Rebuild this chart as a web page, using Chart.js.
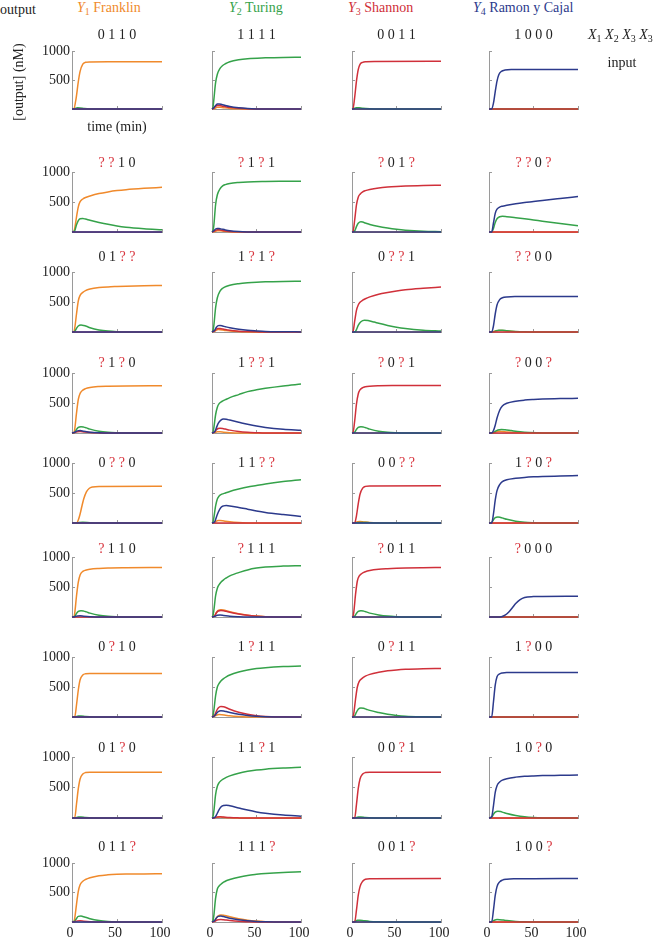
<!DOCTYPE html>
<html lang="en">
<head>
    <meta charset="UTF-8">
    <title>Output grid</title>
    <script src="https://cdn.jsdelivr.net/npm/chart.js"></script>
    <style>
        body { background: #fff; margin: 0; padding: 0; }
        #wrap { position: relative; width: 655px; height: 940px; overflow: hidden; font-family: "Liberation Serif", serif; color: #222; }
        #wrap canvas { position: absolute; }
        .txt { position: absolute; white-space: nowrap; font-size: 14px; line-height: 16px; }
        .ttl { transform: translate(-50%, -50%); }
        .q { color: #d8333c; }
        sub { font-size: 10px; vertical-align: -3px; line-height: 0; }
    </style>
</head>
<body>
<div id="wrap"></div>
<script>
// time (min) / concentration (nM) pairs
const Z = [[0,0],[100,0]];

// Y1 Franklin column
const frInputs = ['0110','??10','01??','?1?0','0??0','?110','0?10','01?0','011?'];
const frOrange = [
    [[0,0],[2,0],[4,130],[5,230],[7,470],[9,650],[12,775],[15,805],[20,812],[40,815],[100,815]],
    [[0,0],[2,0],[3,60],[5,250],[7,420],[9,505],[12,550],[15,575],[20,600],[30,640],[40,668],[50,690],[60,706],[80,728],[100,745]],
    [[0,0],[2,0],[3,60],[5,300],[7,520],[9,610],[12,660],[15,690],[20,715],[30,740],[40,752],[50,758],[60,763],[80,770],[100,775]],
    [[0,0],[2,0],[3,60],[5,330],[7,560],[9,660],[12,715],[15,740],[20,760],[30,775],[40,780],[60,785],[100,788]],
    [[0,0],[5,0],[7,50],[9,150],[11,280],[13,400],[16,520],[19,575],[23,600],[30,610],[100,612]],
    [[0,0],[2,0],[3,60],[5,350],[7,580],[9,700],[12,760],[15,780],[20,795],[30,808],[40,815],[60,820],[100,825]],
    [[0,0],[3,0],[5,200],[7,450],[9,620],[12,700],[15,720],[20,725],[100,727]],
    [[0,0],[3,0],[5,230],[7,480],[9,640],[12,720],[15,745],[20,752],[100,752]],
    [[0,0],[2,0],[3,60],[5,300],[7,520],[9,630],[12,690],[15,720],[20,750],[30,785],[40,800],[50,808],[60,812],[80,815],[100,817]]
];
const frGreen = [
    [[0,0],[3,5],[6,20],[9,18],[14,8],[20,2],[30,0],[100,0]],
    [[0,0],[3,20],[5,120],[7,190],[9,220],[12,225],[15,215],[20,195],[30,160],[40,128],[50,100],[60,80],[80,55],[100,38]],
    [[0,0],[3,10],[5,60],[7,100],[10,115],[13,108],[16,95],[20,72],[30,35],[40,15],[50,5],[60,0],[100,0]],
    [[0,0],[3,10],[5,60],[7,95],[10,105],[13,98],[16,85],[20,65],[30,30],[40,12],[50,4],[60,0],[100,0]],
    [[0,0],[5,0],[8,10],[12,12],[20,5],[30,0],[100,0]],
    [[0,0],[3,10],[5,60],[7,95],[10,105],[13,98],[16,85],[20,65],[30,30],[40,12],[50,4],[60,0],[100,0]],
    [[0,0],[4,5],[7,18],[10,18],[15,10],[25,2],[35,0],[100,0]],
    [[0,0],[4,5],[7,15],[10,15],[15,8],[25,2],[35,0],[100,0]],
    [[0,0],[3,15],[5,60],[7,95],[10,100],[13,88],[16,75],[20,55],[30,25],[40,10],[50,3],[60,0],[100,0]]
];
const frRed = [Z, Z, Z,
    [[0,0],[3,8],[6,22],[9,25],[13,18],[20,8],[30,2],[40,0],[100,0]],
    Z, Z, Z, Z,
    [[0,0],[3,6],[6,18],[9,20],[13,14],[20,6],[30,0],[100,0]]
];
const frBlue = [Z, Z, Z,
    [[0,0],[3,12],[6,35],[9,40],[13,30],[20,14],[30,4],[40,0],[100,0]],
    Z,
    [[0,0],[3,6],[6,18],[9,20],[13,14],[20,6],[30,0],[100,0]],
    Z, Z, Z
];

// Y2 Turing column
const tuInputs = ['1111','?1?1','1?1?','1??1','11??','?111','1?11','11?1','111?'];
const tuOrange = [
    [[0,0],[3,10],[6,30],[9,30],[13,22],[20,10],[30,3],[40,0],[100,0]],
    [[0,0],[3,8],[6,20],[9,20],[13,14],[20,6],[30,0],[100,0]],
    [[0,0],[3,10],[5,30],[7,40],[9,38],[12,32],[15,25],[20,15],[30,6],[40,2],[50,0],[100,0]],
    [[0,0],[3,8],[6,20],[9,20],[13,14],[20,6],[30,0],[100,0]],
    [[0,0],[3,10],[5,30],[7,40],[9,42],[12,38],[15,30],[20,20],[30,8],[40,2],[50,0],[100,0]],
    [[0,0],[3,20],[5,75],[7,110],[10,120],[13,115],[16,105],[20,88],[30,55],[40,30],[50,15],[60,6],[80,0],[100,0]],
    [[0,0],[3,12],[5,30],[8,40],[11,38],[15,30],[20,20],[30,8],[40,2],[50,0],[100,0]],
    [[0,0],[3,5],[6,14],[9,15],[13,10],[20,4],[30,0],[100,0]],
    [[0,0],[3,20],[5,70],[7,105],[10,120],[13,115],[16,105],[20,88],[30,55],[40,30],[50,15],[60,6],[80,0],[100,0]]
];
const tuGreen = [
    [[0,0],[1,20],[2,150],[4,450],[6,600],[9,700],[12,750],[15,780],[20,815],[30,850],[40,868],[60,882],[80,890],[100,893]],
    [[0,0],[1,15],[2,100],[4,450],[6,620],[9,720],[12,770],[15,790],[20,808],[30,825],[40,835],[60,842],[80,845],[100,847]],
    [[0,0],[1,15],[2,100],[4,400],[6,570],[9,680],[12,730],[15,755],[20,780],[30,805],[40,820],[50,830],[60,836],[80,842],[100,845]],
    [[0,0],[1,10],[2,80],[4,300],[6,430],[8,490],[11,525],[15,555],[20,590],[30,640],[40,690],[50,720],[60,745],[80,785],[100,815]],
    [[0,0],[1,10],[2,80],[4,280],[6,400],[8,450],[11,480],[15,500],[20,525],[30,565],[40,600],[50,625],[60,650],[80,690],[100,722]],
    [[0,0],[1,15],[2,100],[4,350],[6,480],[8,540],[10,580],[13,620],[16,650],[20,685],[25,715],[30,740],[40,785],[50,815],[60,833],[80,848],[100,855]],
    [[0,0],[1,15],[2,100],[4,350],[6,500],[8,560],[10,600],[13,640],[16,670],[20,700],[30,750],[40,785],[50,808],[60,822],[80,840],[100,850]],
    [[0,0],[1,15],[2,100],[4,380],[6,520],[8,580],[10,610],[13,640],[16,665],[20,690],[30,735],[40,765],[50,785],[60,800],[80,818],[100,830]],
    [[0,0],[1,15],[2,100],[4,400],[6,560],[8,610],[10,640],[13,675],[16,700],[20,720],[30,760],[40,790],[50,808],[60,822],[80,840],[100,850]]
];
const tuRed = [
    [[0,0],[2,15],[4,45],[6,60],[8,60],[11,52],[15,40],[20,28],[30,12],[40,4],[50,0],[100,0]],
    [[0,0],[2,10],[4,30],[6,38],[8,36],[11,28],[15,18],[20,10],[30,3],[40,0],[100,0]],
    [[0,0],[3,20],[5,50],[7,60],[9,58],[12,50],[15,40],[20,28],[30,14],[40,7],[50,3],[60,0],[100,0]],
    [[0,0],[3,20],[5,55],[7,75],[9,80],[12,75],[15,65],[20,48],[30,25],[40,12],[50,5],[60,0],[100,0]],
    Z,
    [[0,0],[3,20],[5,70],[7,100],[10,110],[13,105],[16,95],[20,80],[30,50],[40,28],[50,14],[60,6],[80,0],[100,0]],
    [[0,0],[3,30],[5,100],[7,150],[10,175],[13,170],[16,155],[20,130],[30,80],[40,45],[50,22],[60,10],[80,3],[100,0]],
    [[0,0],[3,5],[6,18],[9,20],[13,15],[20,7],[30,2],[40,0],[100,0]],
    [[0,0],[3,10],[5,30],[7,40],[10,42],[13,38],[16,32],[20,25],[30,12],[40,5],[50,0],[100,0]]
];
const tuBlue = [
    [[0,0],[2,20],[4,60],[6,85],[8,88],[11,78],[15,60],[20,42],[30,20],[40,8],[50,2],[60,0],[100,0]],
    [[0,0],[2,20],[4,50],[6,60],[8,58],[11,48],[15,35],[20,22],[30,8],[40,2],[50,0],[100,0]],
    [[0,0],[3,30],[5,80],[7,105],[9,110],[12,100],[15,88],[20,70],[30,45],[40,28],[50,18],[60,10],[80,5],[100,2]],
    [[0,0],[3,20],[5,90],[7,160],[10,215],[13,232],[16,228],[20,215],[30,180],[40,145],[50,115],[60,92],[80,62],[100,45]],
    [[0,0],[3,20],[5,100],[7,180],[10,260],[13,285],[16,290],[20,285],[30,260],[40,230],[50,200],[60,175],[80,140],[100,110]],
    [[0,0],[3,10],[6,30],[9,32],[13,25],[20,12],[30,4],[40,0],[100,0]],
    [[0,0],[3,20],[5,60],[7,90],[10,105],[13,100],[16,90],[20,75],[30,45],[40,25],[50,12],[60,5],[80,0],[100,0]],
    [[0,0],[3,10],[5,50],[7,110],[10,180],[13,205],[16,210],[20,200],[30,165],[40,130],[50,100],[60,78],[80,48],[100,30]],
    [[0,0],[3,25],[5,70],[7,95],[10,100],[13,92],[16,80],[20,65],[30,38],[40,20],[50,10],[60,4],[80,0],[100,0]]
];

// Y3 Shannon column
const shInputs = ['0011','?01?','0??1','?0?1','00??','?011','0?11','00?1','001?'];
const shOrange = [Z, Z, Z, Z,
    [[0,0],[3,6],[6,20],[9,24],[13,18],[20,8],[30,2],[40,0],[100,0]],
    Z, Z, Z, Z
];
const shGreen = [
    [[0,0],[2,10],[5,22],[8,20],[12,12],[20,4],[30,0],[100,0]],
    [[0,0],[3,20],[5,90],[7,145],[10,170],[12,165],[15,150],[20,125],[30,90],[40,65],[50,45],[60,30],[80,12],[100,5]],
    [[0,0],[3,0],[5,40],[7,110],[10,170],[14,195],[18,190],[25,165],[30,145],[40,110],[50,80],[60,58],[80,30],[100,15]],
    [[0,0],[3,15],[5,60],[7,95],[10,105],[13,98],[16,85],[20,65],[30,30],[40,12],[50,4],[60,0],[100,0]],
    [[0,0],[4,3],[8,10],[12,10],[20,4],[30,0],[100,0]],
    [[0,0],[3,15],[5,60],[7,95],[10,105],[13,98],[16,85],[20,65],[30,35],[40,15],[50,5],[60,0],[100,0]],
    [[0,0],[3,20],[5,80],[7,130],[10,150],[13,145],[16,130],[20,110],[30,75],[40,45],[50,25],[60,12],[80,3],[100,0]],
    [[0,0],[4,5],[7,15],[10,15],[15,8],[25,2],[35,0],[100,0]],
    [[0,0],[3,8],[6,28],[9,30],[13,22],[20,10],[30,3],[40,0],[100,0]]
];
const shRed = [
    [[0,0],[1,0],[3,200],[5,480],[7,680],[9,770],[12,805],[16,815],[25,820],[100,822]],
    [[0,0],[1,0],[3,200],[5,450],[7,580],[9,630],[12,670],[15,690],[20,710],[30,735],[40,750],[50,760],[60,767],[80,775],[100,780]],
    [[0,0],[1,0],[3,180],[5,360],[7,450],[9,495],[12,530],[15,555],[20,585],[30,630],[40,660],[50,685],[60,705],[80,730],[100,750]],
    [[0,0],[1,0],[3,200],[5,480],[7,650],[9,720],[12,755],[15,770],[20,780],[30,787],[50,790],[100,792]],
    [[0,0],[3,0],[5,120],[7,320],[9,480],[12,580],[15,610],[20,618],[100,620]],
    [[0,0],[1,0],[2,80],[4,380],[6,600],[8,680],[11,725],[15,755],[20,775],[30,795],[40,805],[50,812],[60,817],[80,822],[100,825]],
    [[0,0],[1,0],[2,60],[4,300],[6,500],[8,590],[11,640],[15,680],[20,710],[30,745],[40,770],[50,785],[60,795],[80,805],[100,810]],
    [[0,0],[3,0],[5,220],[7,480],[9,640],[12,720],[15,745],[20,752],[100,752]],
    [[0,0],[3,0],[5,200],[7,450],[9,600],[12,690],[15,725],[20,735],[100,737]]
];
const shBlue = [Z, Z, Z, Z, Z, Z, Z, Z, Z];

// Y4 Ramon y Cajal column
const rcInputs = ['1000','??0?','??00','?00?','1?0?','?000','1?00','10?0','100?'];
const rcOrange = [Z, Z,
    [[0,0],[4,0],[7,15],[11,25],[15,24],[20,16],[30,6],[40,0],[100,0]],
    [[0,0],[4,0],[7,15],[11,28],[15,26],[20,18],[30,7],[40,0],[100,0]],
    Z, Z, Z, Z, Z
];
const rcGreen = [Z,
    [[0,0],[3,0],[5,60],[7,160],[9,220],[12,255],[15,262],[20,255],[30,238],[40,220],[50,200],[60,180],[80,140],[100,105]],
    [[0,0],[4,0],[7,15],[11,30],[15,30],[20,22],[30,10],[40,3],[50,0],[100,0]],
    [[0,0],[4,0],[7,25],[10,50],[14,60],[18,55],[25,40],[35,20],[45,8],[60,0],[100,0]],
    [[0,0],[3,10],[5,55],[7,90],[10,100],[13,92],[16,80],[20,62],[30,30],[40,12],[50,4],[60,0],[100,0]],
    Z, Z,
    [[0,0],[3,10],[5,60],[7,95],[10,110],[13,105],[16,92],[20,75],[30,42],[40,20],[50,8],[60,2],[80,0],[100,0]],
    [[0,0],[3,5],[6,30],[9,42],[12,40],[16,32],[20,24],[30,10],[40,3],[50,0],[100,0]]
];
const rcRed = [Z, Z, Z, Z, Z, Z, Z, Z, Z];
const rcBlue = [
    [[0,0],[3,0],[5,100],[7,300],[9,480],[11,590],[14,650],[18,672],[25,680],[100,682]],
    [[0,0],[3,0],[5,150],[7,310],[9,380],[12,415],[15,430],[20,445],[30,470],[40,490],[50,507],[60,525],[80,558],[100,590]],
    [[0,0],[3,0],[5,100],[7,300],[9,450],[12,540],[15,570],[20,585],[30,590],[100,592]],
    [[0,0],[3,0],[5,40],[7,130],[9,250],[12,380],[15,450],[20,495],[30,530],[40,548],[50,558],[60,565],[80,573],[100,578]],
    [[0,0],[3,0],[5,150],[7,380],[9,540],[12,640],[15,690],[20,720],[30,745],[40,760],[50,770],[60,777],[80,785],[100,790]],
    [[0,0],[10,0],[14,5],[18,30],[22,80],[26,150],[30,225],[35,290],[40,325],[50,340],[60,343],[100,345]],
    [[0,0],[3,0],[5,250],[7,530],[9,670],[12,720],[15,735],[20,740],[100,742]],
    [[0,0],[3,20],[5,200],[7,420],[9,530],[12,590],[15,620],[20,645],[30,670],[40,683],[50,690],[60,695],[80,700],[100,705]],
    [[0,0],[3,0],[5,200],[7,450],[9,600],[12,680],[15,710],[20,725],[30,732],[50,735],[100,737]]
];

const xTicks = [0, 50, 100];
const yTicks = [0, 500, 1000];

const columns = [
    { inputs: frInputs, s: [frBlue, frRed, frGreen, frOrange] },
    { inputs: tuInputs, s: [tuBlue, tuRed, tuGreen, tuOrange] },
    { inputs: shInputs, s: [shBlue, shRed, shGreen, shOrange] },
    { inputs: rcInputs, s: [rcBlue, rcRed, rcGreen, rcOrange] }
];
const colors = ['#2c3a8c', '#d0303a', '#35a24a', '#f08a2c']; // blue, red, green, orange

// layout of the grid
const colLeft = [72, 212, 352, 489];
const colW = [90, 89, 89, 89];
const rowTop = [51, 172, 272, 373, 463, 557, 657, 757, 863];
const rowH = [58, 60, 60, 60, 60, 60, 60, 61, 59];
const titleY = [35, 163, 257, 363, 463, 549, 647, 748, 847];

const wrap = document.getElementById('wrap');
const axisColor = '#9a9a9a';
const tickFont = { family: '"Liberation Serif", serif', size: 14 };

function addText(html, x, y, cls, color) {
    const d = document.createElement('div');
    d.className = 'txt ' + (cls || '');
    d.style.left = x + 'px';
    d.style.top = y + 'px';
    if (color) d.style.color = color;
    d.innerHTML = html;
    wrap.appendChild(d);
    return d;
}

function panel(ci, ri) {
    const last = ri === 8;
    const padL = 45, padT = 9, padR = 16, axH = last ? 24 : 3;
    const w = colW[ci] + padL + padR, h = rowH[ri] + padT + axH;
    const cv = document.createElement('canvas');
    cv.width = w; cv.height = h;
    cv.style.left = (colLeft[ci] - padL) + 'px';
    cv.style.top = (rowTop[ri] - padT) + 'px';
    cv.style.width = w + 'px';
    cv.style.height = h + 'px';
    wrap.appendChild(cv);

    const datasets = columns[ci].s.map((arr, k) => ({
        data: arr[ri].map(p => ({ x: p[0], y: p[1] })),
        borderColor: colors[k], borderWidth: 1.5, pointRadius: 0,
        fill: false, cubicInterpolationMode: 'monotone', clip: 3
    }));

    new Chart(cv.getContext('2d'), {
        type: 'line',
        data: { datasets: datasets },
        options: {
            responsive: false, animation: false, events: [],
            layout: { padding: { top: padT, right: padR, left: 0, bottom: 0 } },
            plugins: { legend: { display: false }, tooltip: { enabled: false } },
            scales: {
                x: {
                    type: 'linear', min: 0, max: 100,
                    afterBuildTicks: s => { s.ticks = xTicks.map(v => ({ value: v })); },
                    afterFit: s => { s.height = axH; s.paddingLeft = 0; s.paddingRight = 0; },
                    ticks: { display: last, padding: 6, labelOffset: -2, maxRotation: 0, autoSkip: false, font: tickFont, color: '#222' },
                    grid: { drawOnChartArea: false, tickLength: -3, color: axisColor },
                    border: { color: axisColor }
                },
                y: {
                    min: 0, max: 1000,
                    afterBuildTicks: s => { s.ticks = yTicks.map(v => ({ value: v })); },
                    afterFit: s => { s.width = padL; s.paddingTop = 0; s.paddingBottom = 0; },
                    ticks: { display: ci === 0, padding: 5, font: tickFont, color: '#222', callback: v => v === 0 ? '' : String(v) },
                    grid: { drawOnChartArea: false, tickLength: -3, color: axisColor },
                    border: { color: axisColor }
                }
            }
        }
    });

    // input combination above the panel
    const label = columns[ci].inputs[ri].split('').map(c => c === '?' ? '<span class="q">?</span>' : c).join(' ');
    addText(label, colLeft[ci] + colW[ci] / 2, titleY[ri], 'ttl');
}

for (let ri = 0; ri < 9; ri++) {
    for (let ci = 0; ci < 4; ci++) panel(ci, ri);
}

// headers
addText('output', 0, 2);
addText('<i>Y</i><sub>1</sub> Franklin', 77, 0, '', '#f08a2c');
addText('<i>Y</i><sub>2</sub> Turing', 229, 0, '', '#35a24a');
addText('<i>Y</i><sub>3</sub> Shannon', 348, 0, '', '#d0303a');
addText('<i>Y</i><sub>4</sub> Ramon y Cajal', 473, 0, '', '#2c3a8c');
addText('<i>X</i><sub>1</sub> <i>X</i><sub>2</sub> <i>X</i><sub>3</sub> <i>X</i><sub>3</sub>', 588, 27);
addText('input', 622, 63, 'ttl');
addText('time (min)', 117, 127, 'ttl');
const yl = addText('[output] (nM)', 19, 82, 'ttl');
yl.style.transform = 'translate(-50%, -50%) rotate(-90deg)';
</script>
</body>
</html>
